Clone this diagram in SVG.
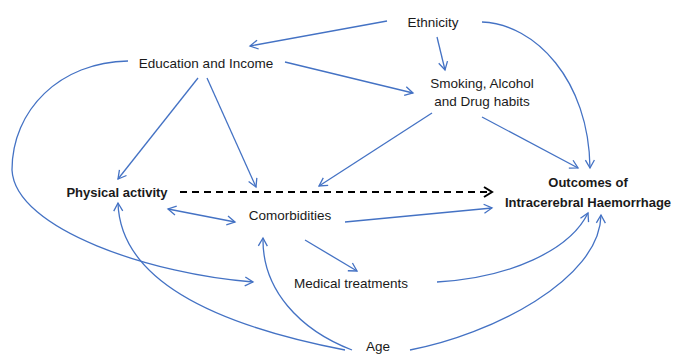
<svg xmlns="http://www.w3.org/2000/svg" width="675" height="355" viewBox="0 0 675 355">
<style>
text{font-family:"Liberation Sans",Arial,sans-serif;font-size:13.5px;fill:#1a1a1a;text-anchor:middle}
.b{font-weight:bold;font-size:13px}
.c{fill:none;stroke:#4472C4;stroke-width:1.3}
.d{fill:none;stroke:#000;stroke-width:2;stroke-dasharray:7,5}
</style>
<defs>
<marker id="a" markerUnits="userSpaceOnUse" markerWidth="12" markerHeight="12" refX="0" refY="0" orient="auto-start-reverse" overflow="visible">
<path d="M-8,-4.5 L0,0 L-8,4.5" fill="none" stroke="#4472C4" stroke-width="1.3"/>
</marker>
<marker id="k" markerUnits="userSpaceOnUse" markerWidth="12" markerHeight="12" refX="0" refY="0" orient="auto" overflow="visible">
<path d="M-8,-5 L0,0 L-8,5" fill="none" stroke="#000" stroke-width="2"/>
</marker>
</defs>
<rect width="675" height="355" fill="#fff"/>
<g id="connectors">
<path class="c" d="M387,21 L250,46" marker-end="url(#a)"/>
<path class="c" d="M437,37 L445,70" marker-end="url(#a)"/>
<path class="c" d="M482,22 C535,24 589,80 590,168" marker-end="url(#a)"/>
<path class="c" d="M285,62 L413,93" marker-end="url(#a)"/>
<path class="c" d="M198,78 L118,179" marker-end="url(#a)"/>
<path class="c" d="M207,78 L256,187" marker-end="url(#a)"/>
<path class="c" d="M128,61 C60,62 12,110 12,170 C15,230 155,275 253,282" marker-end="url(#a)"/>
<path class="c" d="M168,209 L235,222" marker-start="url(#a)" marker-end="url(#a)"/>
<path class="d" d="M180,192 L492,192" marker-end="url(#k)"/>
<path class="c" d="M432,113 L319,186" marker-end="url(#a)"/>
<path class="c" d="M482,117 L578,168" marker-end="url(#a)"/>
<path class="c" d="M345,222 L492,208" marker-end="url(#a)"/>
<path class="c" d="M305,240 L357,271" marker-end="url(#a)"/>
<path class="c" d="M437,282 C510,278 570,250 588,213" marker-end="url(#a)"/>
<path class="c" d="M410,350 C490,335 600,280 601,215" marker-end="url(#a)"/>
<path class="c" d="M345,350 C190,320 120,270 118,203" marker-end="url(#a)"/>
<path class="c" d="M352,350 C300,330 262,290 263,238" marker-end="url(#a)"/>
</g>
<g id="ethnicity"><text x="433" y="27">Ethnicity</text></g>
<g id="education"><text x="206" y="68">Education and Income</text></g>
<g id="smoking"><text x="482" y="88">Smoking, Alcohol</text><text x="482" y="106">and Drug habits</text></g>
<g id="physical"><text class="b" x="117" y="197">Physical activity</text></g>
<g id="comorbidities"><text x="290" y="220">Comorbidities</text></g>
<g id="medical"><text x="351" y="288">Medical treatments</text></g>
<g id="outcomes"><text class="b" x="588" y="187">Outcomes of</text><text class="b" x="588" y="207">Intracerebral Haemorrhage</text></g>
<g id="age"><text x="378" y="351">Age</text></g>
</svg>
